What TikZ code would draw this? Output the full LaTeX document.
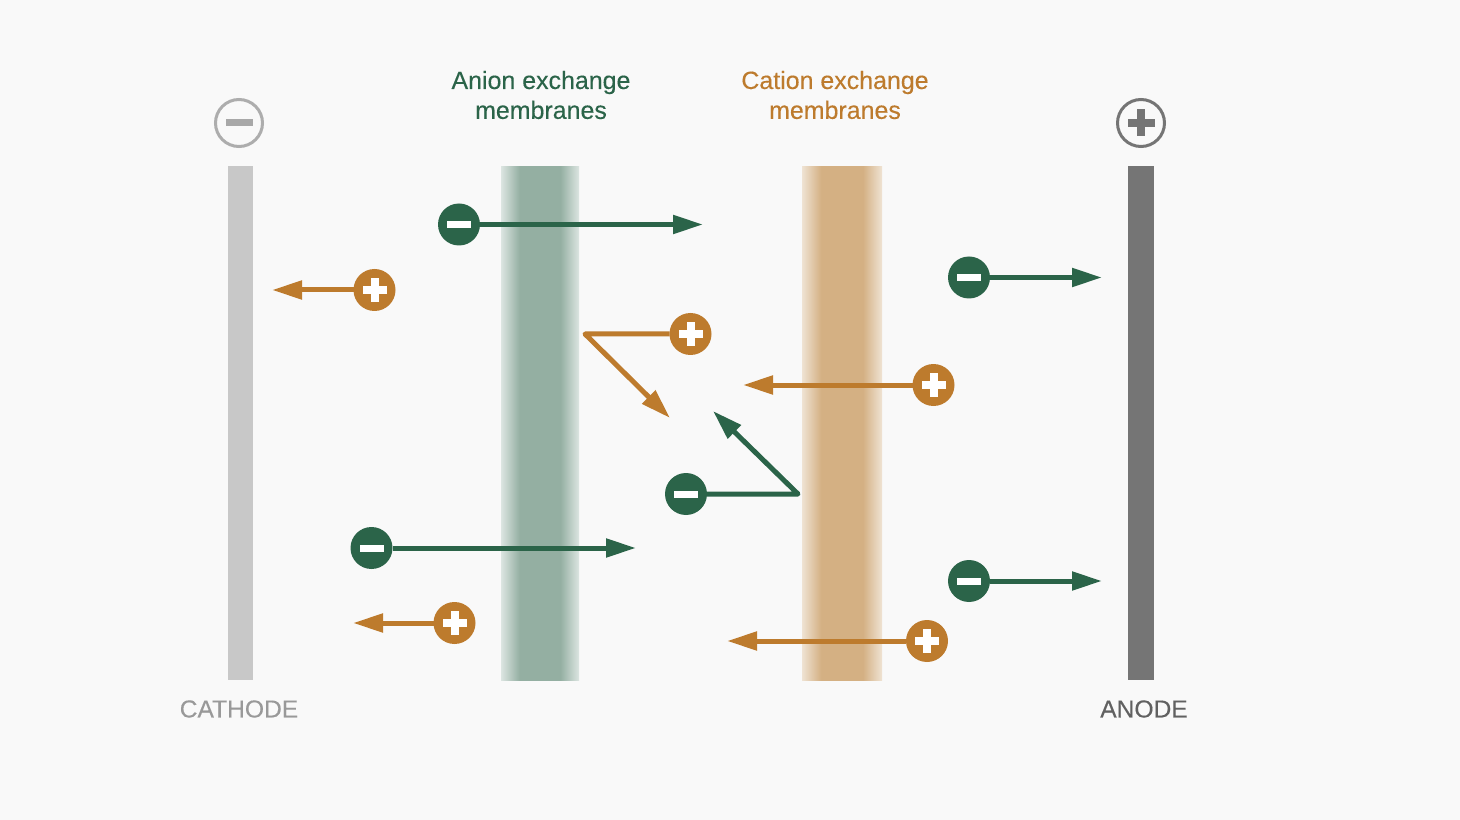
\documentclass[tikz,border=0pt]{standalone}
\usepackage{fontspec}
\setmainfont[FakeBold=0.25]{Liberation Sans}
\usetikzlibrary{arrows.meta}
\definecolor{fond}{HTML}{F9F9F9}
\definecolor{vert}{HTML}{2B6449}
\definecolor{ocre}{HTML}{BD7B2D}
\definecolor{bandevert}{HTML}{94AFA2}
\definecolor{bandeocre}{HTML}{D4B083}
\definecolor{bordvert}{HTML}{DCE5E1}
\definecolor{bordocre}{HTML}{EFE3D3}
\definecolor{grisclair}{HTML}{C8C8C8}
\definecolor{grisfonce}{HTML}{757575}
\pgfdeclarehorizontalshading{degradevert}{100bp}{color(0bp)=(bordvert); color(25bp)=(bordvert); color(37bp)=(bandevert); color(63bp)=(bandevert); color(75bp)=(bordvert); color(100bp)=(bordvert)}
\pgfdeclarehorizontalshading{degradeocre}{100bp}{color(0bp)=(bordocre); color(25bp)=(bordocre); color(37bp)=(bandeocre); color(63bp)=(bandeocre); color(75bp)=(bordocre); color(100bp)=(bordocre)}
\tikzset{
    ion/.style={circle, minimum size=0.42cm, inner sep=0pt, outer sep=0pt},
    ionmoins/.style={ion, fill=vert, path picture={
        \fill[white,shift={(path picture bounding box.center)}] (-0.12,-0.035) rectangle (0.12,0.035);}},
    ionplus/.style={ion, fill=ocre, path picture={
        \fill[white,shift={(path picture bounding box.center)}] (-0.12,-0.04) rectangle (0.12,0.04);
        \fill[white,shift={(path picture bounding box.center)}] (-0.04,-0.12) rectangle (0.04,0.12);}},
    borne/.style={circle, minimum size=0.47cm, inner sep=0pt, line width=0.03cm},
    fleche/.style={line width=0.05cm, line join=round, -{Triangle[length=0.3cm,width=0.18cm]}},
    titre/.style={align=center, font=\fontsize{7.1}{8.5}\selectfont},
    legende/.style={font=\fontsize{7}{8.5}\selectfont}
}
\begin{document}
\begin{tikzpicture}
    \useasboundingbox (0,0) rectangle (14.6,-8.2);
    \fill[fond] (0,0) rectangle (14.6,-8.2);

    % Electrodes
    \fill[grisclair] (2.28,-1.66) rectangle (2.53,-6.8);
    \fill[grisfonce] (11.28,-1.66) rectangle (11.54,-6.8);

    % Membranes
    \shade[shading=degradevert] (5.01,-1.665) rectangle (5.79,-6.8);
    \shade[shading=degradeocre] (8.02,-1.665) rectangle (8.82,-6.8);

    % Bornes
    \node[borne, draw=black!32] (cathode) at (2.39,-1.23) {};
    \fill[black!34] (2.255,-1.265) rectangle (2.525,-1.195);
    \node[borne, draw=grisfonce] (anode) at (11.41,-1.23) {};
    \fill[grisfonce] (11.275,-1.27) rectangle (11.545,-1.19);
    \fill[grisfonce] (11.37,-1.095) rectangle (11.45,-1.365);

    % Textes
    \node[titre, text=vert] (anion) at (5.41,-0.95) {Anion exchange\\membranes};
    \node[titre, text=ocre] (cation) at (8.35,-0.95) {Cation exchange\\membranes};
    \node[legende, text=black!40] (txtcathode) at (2.39,-7.09) {CATHODE};
    \node[legende, text=black!62] (txtanode) at (11.44,-7.09) {ANODE};

    % Ions
    \node[ionmoins] (m1) at (4.59,-2.245) {};
    \node[ionplus] (p1) at (3.745,-2.9) {};
    \node[ionplus] (p2) at (6.905,-3.34) {};
    \node[ionplus] (p3) at (9.335,-3.85) {};
    \node[ionmoins] (m2) at (6.86,-4.94) {};
    \node[ionmoins] (m3) at (3.715,-5.48) {};
    \node[ionplus] (p4) at (4.545,-6.23) {};
    \node[ionmoins] (m4) at (9.69,-2.775) {};
    \node[ionmoins] (m5) at (9.69,-5.81) {};
    \node[ionplus] (p5) at (9.27,-6.41) {};

    % Extremites des fleches
    \coordinate (em1) at (7.03,-2.245);
    \coordinate (ep1) at (2.72,-2.9);
    \coordinate (cp2) at (5.85,-3.34);
    \coordinate (ep2) at (6.7,-4.18);
    \coordinate (ep3) at (7.43,-3.85);
    \coordinate (cm2) at (7.98,-4.94);
    \coordinate (em2) at (7.13,-4.11);
    \coordinate (em3) at (6.36,-5.48);
    \coordinate (ep4) at (3.53,-6.23);
    \coordinate (em4) at (11.02,-2.775);
    \coordinate (em5) at (11.02,-5.81);
    \coordinate (ep5) at (7.27,-6.41);

    % Fleches
    \draw[fleche, vert] (m1) -- (em1);
    \draw[fleche, ocre] (p1) -- (ep1);
    \draw[fleche, ocre] (p2) -- (cp2) -- (ep2);
    \draw[fleche, ocre] (p3) -- (ep3);
    \draw[fleche, vert] (m2) -- (cm2) -- (em2);
    \draw[fleche, vert] (m3) -- (em3);
    \draw[fleche, ocre] (p4) -- (ep4);
    \draw[fleche, vert] (m4) -- (em4);
    \draw[fleche, vert] (m5) -- (em5);
    \draw[fleche, ocre] (p5) -- (ep5);
\end{tikzpicture}
\end{document}
